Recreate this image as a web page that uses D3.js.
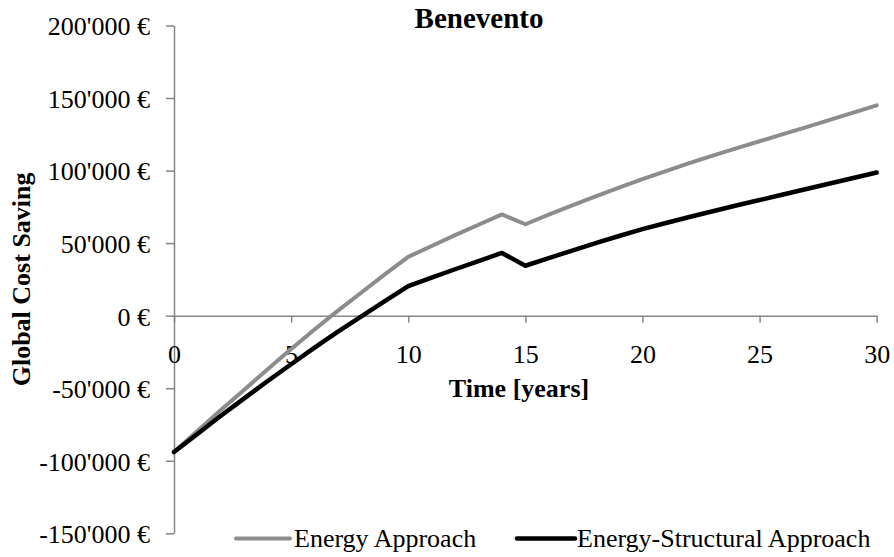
<!DOCTYPE html>
<html>
<head>
<meta charset="utf-8">
<script src="https://cdn.jsdelivr.net/npm/d3@7/dist/d3.min.js"></script>
<style>
  html, body { margin: 0; padding: 0; background: #ffffff; }
  svg text { font-family: 'Liberation Serif', Tinos, 'Times New Roman', Times, 'DejaVu Serif', serif !important; }
</style>
</head>
<body>
<svg id="chart" width="894" height="557"></svg>
<script>
// ---- data ----
const years = [0,1,2,3,4,5,6,7,8,9,10,11,12,13,14,15,16,17,18,19,20,21,22,23,24,25,26,27,28,29,30];
const energyApproach = [-94000,-79500,-65000,-51000,-37000,-23000,-9500,3500,16000,28500,40500,
  48000,55500,62700,69800,63000,69600,76000,82200,88200,94100,99700,105100,110300,115300,120200,125100,130000,134900,139900,145000];
const energyStructuralApproach = [-94000,-81500,-69000,-57000,-45000,-33500,-22000,-11000,-500,10000,20300,
  26200,32000,37600,43200,34400,39700,44900,50000,54900,59700,63900,68000,72000,75900,79700,83500,87300,91100,94900,98700];
const seriesNames = ["Energy Approach", "Energy-Structural Approach"];
const seriesColors = ["#8c8c8c", "#000000"];
const xTicks = [0,5,10,15,20,25,30];
const yTicks = [-150000,-100000,-50000,0,50000,100000,150000,200000];
const title = "Benevento";
const xTitle = "Time [years]";
const yTitle = "Global Cost Saving";

// ---- layout ----
const FONT = "'Liberation Serif', Tinos, 'Times New Roman', Times, 'DejaVu Serif', serif";
const svg = d3.select("#chart");
const x = d3.scaleLinear().domain([0, 30]).range([174, 876.7]);
const y = d3.scaleLinear().domain([-150000, 200000]).range([533.3, 25.5]);
const axisColor = "#868686";
const fs = 26;

const loc = d3.formatLocale({decimal: ".", thousands: "'", grouping: [3], currency: ["", " €"], minus: "-"});
const fmt = v => loc.format(",")(v) + " €";

// y axis
const yAxis = svg.append("g").attr("transform", `translate(${x(0)},0)`)
  .call(d3.axisLeft(y).tickValues(yTicks).tickSize(8).tickSizeOuter(0).tickPadding(16).tickFormat(fmt));
yAxis.attr("font-family", FONT).attr("font-size", fs);
yAxis.select(".domain").attr("stroke", axisColor).attr("stroke-width", 1.5);
yAxis.selectAll(".tick line").attr("stroke", axisColor).attr("stroke-width", 1.5);
yAxis.selectAll(".tick text").attr("font-family", FONT).attr("font-size", fs)
  .attr("fill", "#000").attr("dy", "0.36em");

// x axis at y=0
const xAxis = svg.append("g").attr("transform", `translate(0,${y(0)})`)
  .call(d3.axisBottom(x).tickValues(xTicks).tickSize(7).tickSizeOuter(0).tickPadding(22).tickFormat(d3.format("d")));
xAxis.attr("font-family", FONT).attr("font-size", fs);
xAxis.select(".domain").attr("stroke", axisColor).attr("stroke-width", 1.5);
xAxis.selectAll(".tick line").attr("stroke", axisColor).attr("stroke-width", 1.5);
xAxis.selectAll(".tick text").attr("font-family", FONT).attr("font-size", fs)
  .attr("fill", "#000").attr("dy", "0.72em");

// lines
const line = d3.line().x((d, i) => x(years[i])).y(d => y(d));
[energyApproach, energyStructuralApproach].forEach((s, k) => {
  svg.append("path").datum(s)
    .attr("d", line)
    .attr("fill", "none")
    .attr("stroke", seriesColors[k])
    .attr("stroke-width", k === 0 ? 4 : 4.5)
    .attr("stroke-linejoin", "round")
    .attr("stroke-linecap", "round");
});

// title
svg.append("text").attr("x", 479).attr("y", 28).attr("text-anchor", "middle")
  .attr("font-family", FONT).attr("font-size", 29).attr("font-weight", "bold").text(title);

// axis titles
svg.append("text").attr("x", 519).attr("y", 397).attr("text-anchor", "middle")
  .attr("font-family", FONT).attr("font-size", fs).attr("font-weight", "bold").text(xTitle);
svg.append("text").attr("transform", `translate(30,${(y.range()[0] + y.range()[1]) / 2}) rotate(-90)`)
  .attr("text-anchor", "middle").attr("font-family", FONT).attr("font-size", fs)
  .attr("font-weight", "bold").text(yTitle);

// legend
const legendItems = [{x0: 236, x1: 290, tx: 294}, {x0: 517, x1: 575, tx: 577}];
legendItems.forEach((it, k) => {
  svg.append("line").attr("x1", it.x0).attr("x2", it.x1).attr("y1", 538.5).attr("y2", 538.5)
    .attr("stroke", seriesColors[k]).attr("stroke-width", k === 0 ? 4 : 4.5).attr("stroke-linecap", "round");
  svg.append("text").attr("x", it.tx).attr("y", 547).attr("font-family", FONT)
    .attr("font-size", fs).text(seriesNames[k]);
});
</script>
</body>
</html>
